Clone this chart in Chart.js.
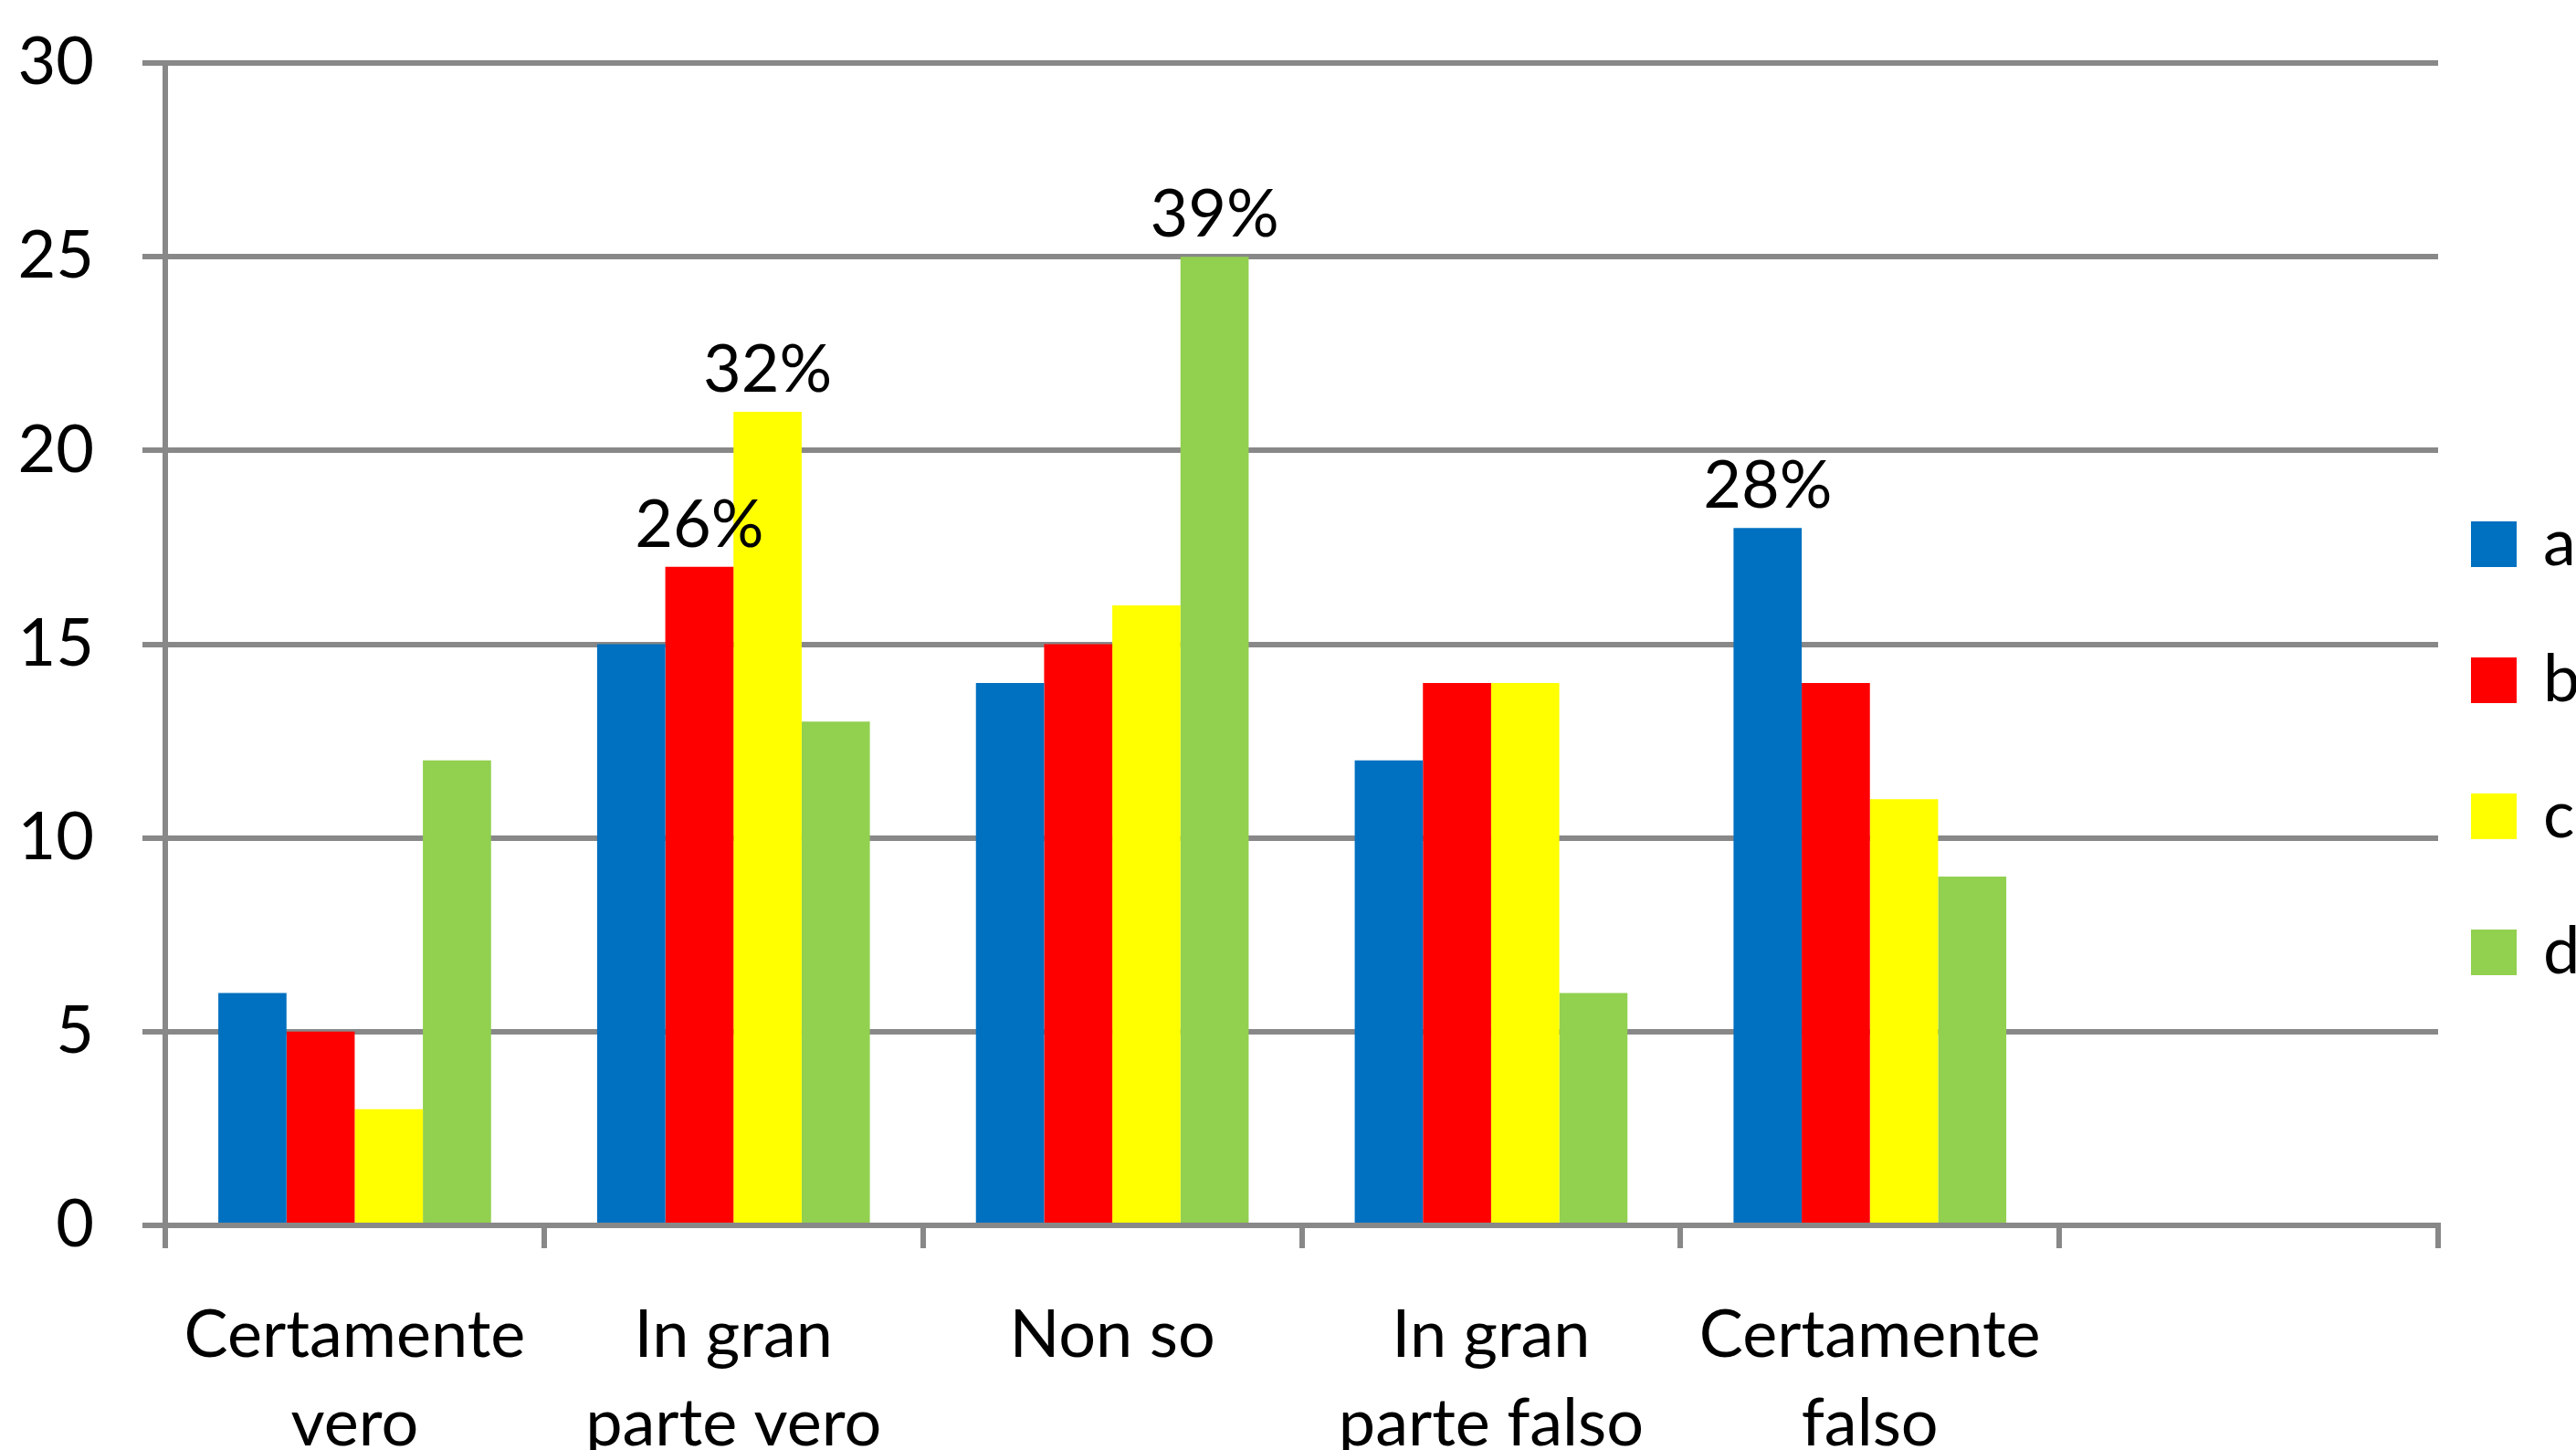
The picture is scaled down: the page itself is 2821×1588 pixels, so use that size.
<!DOCTYPE html>
<html>
<head>
<meta charset="utf-8">
<script src="https://cdn.jsdelivr.net/npm/chart.js@4.4.0/dist/chart.umd.min.js"></script>
<style>
  html, body { margin: 0; padding: 0; background: #fff; overflow: hidden; }
  #wrap { width: 2821px; height: 1588px; }
</style>
</head>
<body>
<div id="wrap"><canvas id="chart" width="2821" height="1588"></canvas></div>
<script>
// categories (the last one is empty in the original)
const categories = [
  ['Certamente', 'vero'],
  ['In gran', 'parte vero'],
  'Non so',
  ['In gran', 'parte falso'],
  ['Certamente', 'falso'],
  ''
];

const seriesNames = ['a', 'b', 'c', 'd'];
const seriesColors = ['#0070C0', '#FF0000', '#FFFF00', '#92D050'];

const valuesA = [6, 15, 14, 12, 18, null];
const valuesB = [5, 17, 15, 14, 14, null];
const valuesC = [3, 21, 16, 14, 11, null];
const valuesD = [12, 13, 25, 6, 9, null];

// percentage labels shown above a few bars
const pctA = ['', '', '', '', '28%', ''];
const pctB = ['', '26%', '', '', '', ''];
const pctC = ['', '32%', '', '', '', ''];
const pctD = ['', '', '39%', '', '', ''];

const yTicks = [0, 5, 10, 15, 20, 25, 30];

const FONT = 'Lato, "Open Sans", sans-serif';
const GRID = '#888888';

const allValues = [valuesA, valuesB, valuesC, valuesD];
const allPct = [pctA, pctB, pctC, pctD];

// draws the percentage labels on top of the bars
const barLabels = {
  id: 'barLabels',
  afterDatasetsDraw(chart) {
    const ctx = chart.ctx;
    ctx.save();
    ctx.font = '72px ' + FONT;
    ctx.fillStyle = '#000';
    ctx.textAlign = 'center';
    ctx.textBaseline = 'alphabetic';
    chart.data.datasets.forEach((ds, i) => {
      const meta = chart.getDatasetMeta(i);
      meta.data.forEach((bar, j) => {
        const txt = allPct[i][j];
        if (txt) ctx.fillText(txt, bar.x, bar.y - 22);
      });
    });
    ctx.restore();
  }
};

// legend on the right, cut by the canvas edge like the original
const sideLegend = {
  id: 'sideLegend',
  afterDraw(chart) {
    const ctx = chart.ctx;
    const area = chart.chartArea;
    ctx.save();
    ctx.font = '72px ' + FONT;
    ctx.textBaseline = 'middle';
    ctx.textAlign = 'left';
    chart.data.datasets.forEach((ds, i) => {
      const cy = area.top + 527 + i * 149;
      const x = area.right + 36;
      ctx.fillStyle = ds.backgroundColor;
      ctx.fillRect(x, cy - 25, 50, 50);
      ctx.fillStyle = '#000';
      ctx.fillText(ds.label, x + 79, cy);
    });
    ctx.restore();
  }
};

new Chart(document.getElementById('chart'), {
  type: 'bar',
  data: {
    labels: categories,
    datasets: allValues.map((vals, i) => ({
      label: seriesNames[i],
      data: vals,
      backgroundColor: seriesColors[i],
      borderWidth: 0,
      categoryPercentage: 0.72,
      barPercentage: 1.0
    }))
  },
  options: {
    responsive: false,
    animation: false,
    devicePixelRatio: 1,
    layout: { padding: { left: 0, right: 151, top: 69, bottom: 0 } },
    plugins: {
      legend: { display: false },
      tooltip: { enabled: false }
    },
    scales: {
      x: {
        z: 1,
        grid: {
          offset: true,
          drawOnChartArea: false,
          drawTicks: true,
          tickLength: 25,
          color: GRID,
          lineWidth: 6
        },
        border: { display: true, color: GRID, width: 6 },
        ticks: {
          color: '#000',
          font: { family: FONT, size: 72, lineHeight: 1.35 },
          padding: 47,
          maxRotation: 0,
          autoSkip: false
        },
        afterFit(scale) { scale.height = 246; }
      },
      y: {
        min: 0,
        max: 30,
        afterBuildTicks(scale) { scale.ticks = yTicks.map(v => ({ value: v })); },
        grid: {
          color: GRID,
          lineWidth: 6,
          tickLength: 25,
          drawTicks: true
        },
        border: { display: true, color: GRID, width: 6 },
        ticks: {
          color: '#000',
          font: { family: FONT, size: 72 },
          padding: 53
        },
        afterFit(scale) {
          scale.width = 181;
          scale.paddingTop = 0;
          scale.paddingBottom = 0;
        }
      }
    }
  },
  plugins: [barLabels, sideLegend]
});
</script>
</body>
</html>
